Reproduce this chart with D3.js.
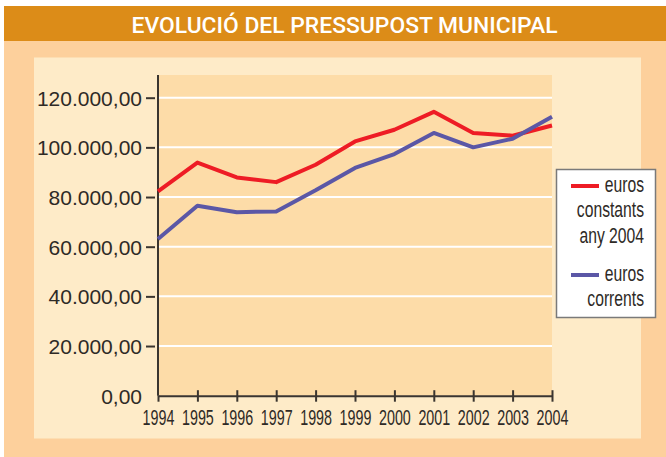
<!DOCTYPE html>
<html>
<head>
<meta charset="utf-8">
<script src="https://cdn.jsdelivr.net/npm/d3@7"></script>
<style>
  body { margin: 0; background: #fff; }
  svg { display: block; }
</style>
</head>
<body>
<svg id="chart"></svg>
<script>
// data
var years = [1994, 1995, 1996, 1997, 1998, 1999, 2000, 2001, 2002, 2003, 2004];
var constants2004 = [82300, 93900, 87900, 86000, 93000, 102400, 107100, 114300, 105800, 104700, 108800];
var corrents = [63100, 76500, 73900, 74200, 82700, 91700, 97300, 105800, 100000, 103500, 112300];
var yTicks = [0, 20000, 40000, 60000, 80000, 100000, 120000];
var titleText = "EVOLUCIÓ DEL PRESSUPOST MUNICIPAL";
var legendLabels = [["euros", "constants", "any 2004"], ["euros", "corrents"]];
var seriesColors = ["#ee1c25", "#5b57a6"];

var svgW = 666;
var svgH = 457;

var plotLeft = 158, plotRight = 552, plotTop = 75, plotBottom = 395.7;

var svg = d3.select("#chart")
  .attr("width", svgW)
  .attr("height", svgH);

// background panels
svg.append("rect").attr("x", 4).attr("y", 41).attr("width", svgW - 4).attr("height", svgH - 41).attr("fill", "#fdd09c");
svg.append("rect").attr("x", 4).attr("y", 6).attr("width", svgW - 4).attr("height", 35).attr("fill", "#dc8c18");
svg.append("rect").attr("x", 34).attr("y", 57.5).attr("width", 607).attr("height", 381).attr("fill", "#feebc8");
svg.append("rect").attr("x", plotLeft).attr("y", plotTop).attr("width", plotRight - plotLeft).attr("height", plotBottom - plotTop).attr("fill", "#fddca8");

svg.append("text")
  .attr("x", 344.5)
  .attr("y", 33)
  .attr("text-anchor", "middle")
  .attr("font-family", "Roboto")
  .attr("font-weight", 500)
  .attr("font-size", 22.5)
  .attr("fill", "#fff")
  .attr("textLength", 426)
  .attr("lengthAdjust", "spacingAndGlyphs")
  .text(titleText);

var xScale = d3.scaleLinear().domain([1994, 2004]).range([plotLeft, plotRight]);
var yScale = d3.scaleLinear().domain([0, 120000]).range([plotBottom, 97.7]);

// white gridlines
svg.append("g")
  .selectAll("line")
  .data(yTicks.filter(function(d){ return d > 0; }))
  .enter()
  .append("line")
    .attr("x1", plotLeft)
    .attr("x2", plotRight)
    .attr("y1", function(d){ return yScale(d); })
    .attr("y2", function(d){ return yScale(d); })
    .attr("stroke", "#fff")
    .attr("stroke-width", 2);

// y axis
var yAxis = d3.axisLeft(yScale)
  .tickValues(yTicks)
  .tickSize(0)
  .tickPadding(0)
  .tickFormat(function(d){
    var s = d3.format(",.2f")(d);
    return s.replace(/,/g, "#").replace(".", ",").replace(/#/g, ".");
  });

var yAxisG = svg.append("g")
  .attr("transform", "translate(" + plotLeft + ",0)")
  .call(yAxis);
yAxisG.select(".domain").remove();
yAxisG.selectAll(".tick text")
  .attr("x", -16)
  .attr("dy", "0.36em")
  .attr("font-family", "Liberation Sans")
  .attr("font-size", 21)
  .attr("fill", "#2e2a26");
yAxisG.selectAll(".tick")
  .filter(function(d){ return d > 0; })
  .append("line")
    .attr("x1", -12).attr("x2", -3)
    .attr("stroke", "#3a3530").attr("stroke-width", 2);

svg.append("line")
  .attr("x1", plotLeft).attr("x2", plotLeft)
  .attr("y1", plotTop).attr("y2", plotBottom)
  .attr("stroke", "#3a3530").attr("stroke-width", 2);

// x axis
var xAxis = d3.axisBottom(xScale)
  .tickValues(years)
  .tickSize(0)
  .tickPadding(0)
  .tickFormat(d3.format("d"));

var xAxisG = svg.append("g")
  .attr("transform", "translate(0," + plotBottom + ")")
  .call(xAxis);
xAxisG.select(".domain")
  .attr("stroke", "#3a3530").attr("stroke-width", 2);
xAxisG.selectAll(".tick line").remove();
xAxisG.selectAll(".tick")
  .append("line")
    .attr("y1", function(d){ return d == 1994 ? 0 : -5.5; })
    .attr("y2", 6)
    .attr("stroke", "#3a3530").attr("stroke-width", 2);
// condensed look: squeeze the labels horizontally
xAxisG.selectAll(".tick text")
  .attr("y", 29.5)
  .attr("dy", null)
  .attr("transform", "scale(0.65,1)")
  .attr("font-family", "Liberation Sans")
  .attr("font-size", 22)
  .attr("fill", "#2e2a26");

// lines
var line = d3.line()
  .x(function(d, i){ return xScale(years[i]); })
  .y(function(d){ return yScale(d); });

[constants2004, corrents].forEach(function(s, i){
  svg.append("path")
    .datum(s)
    .attr("d", line)
    .attr("fill", "none")
    .attr("stroke", seriesColors[i])
    .attr("stroke-width", 4)
    .attr("stroke-linejoin", "round");
});

// legend
var legend = svg.append("g");
legend.append("rect")
  .attr("x", 556.5).attr("y", 169.5)
  .attr("width", 99).attr("height", 148)
  .attr("fill", "#fff")
  .attr("stroke", "#7a7a7a").attr("stroke-width", 1.5);

var legendTop = [192, 281];
var lineH = 25.5;
legendLabels.forEach(function(lines, i){
  legend.append("line")
    .attr("x1", 571).attr("x2", 599)
    .attr("y1", legendTop[i] - 6).attr("y2", legendTop[i] - 6)
    .attr("stroke", seriesColors[i]).attr("stroke-width", 4);
  var t = legend.append("g").attr("transform", "translate(644,0) scale(0.73,1)");
  t.selectAll("text")
    .data(lines)
    .enter()
    .append("text")
      .attr("x", 0)
      .attr("y", function(d, j){ return legendTop[i] + j * lineH; })
      .attr("text-anchor", "end")
      .attr("font-family", "Liberation Sans")
      .attr("font-size", 21.5)
      .attr("fill", "#2e2a26")
      .text(function(d){ return d; });
});
</script>
</body>
</html>
